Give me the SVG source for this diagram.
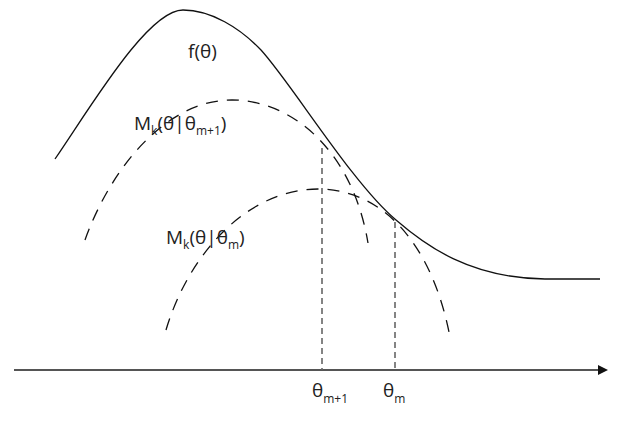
<svg xmlns="http://www.w3.org/2000/svg" width="621" height="422" viewBox="0 0 621 422">
<style>
.curve{fill:none;stroke:#111;stroke-width:1.3}
.dash{fill:none;stroke:#111;stroke-width:1.3;stroke-dasharray:12,9}
.vline{stroke:#666;stroke-width:1.6;stroke-dasharray:6,4}
.axis{stroke:#555;stroke-width:2}
text{font-family:"Open Sans","Liberation Sans",sans-serif;fill:#222;font-size:19px}
.sub{font-size:12px}
</style>
<defs>
<marker id="arr" viewBox="0 0 10 10" refX="2" refY="5" markerWidth="5" markerHeight="5" orient="auto" markerUnits="strokeWidth">
<path d="M0,0 L10,5 L0,10 z" fill="#111"/>
</marker>
</defs>
<rect width="621" height="422" fill="#fff"/>
<g id="connectors">
<line class="axis" x1="14" y1="370" x2="600" y2="370" marker-end="url(#arr)"/>
<line class="vline" x1="322" y1="148" x2="322" y2="370"/>
<line class="vline" x1="395" y1="222" x2="395" y2="370"/>
</g>
<g id="f-curve">
<path class="curve" d="M55,159 C92,105 148,10 183,10 C211,10 240,28 261,50 C292,84 352,183 396,220 C426,246 470,278 545,279 L600,279"/>
<text x="188" y="58">f(θ)</text>
</g>
<g id="m-curve-1">
<path class="dash" d="M85,240 C110,170 165,100 232,100 C290,100 352,148 368,243"/>
<text x="134" y="130">M<tspan class="sub" dy="5">k</tspan><tspan dy="-5">(θ|θ</tspan><tspan class="sub" dy="5">m+1</tspan><tspan dy="-5">)</tspan></text>
</g>
<g id="m-curve-2">
<path class="dash" d="M166,330 C190,250 250,189 318,189 C380,189 430,240 449,332"/>
<text x="166" y="244">M<tspan class="sub" dy="5">k</tspan><tspan dy="-5">(θ|θ</tspan><tspan class="sub" dy="5">m</tspan><tspan dy="-5">)</tspan></text>
</g>
<g id="labels">
<text x="312" y="397">θ<tspan class="sub" dy="6">m+1</tspan></text>
<text x="383" y="397">θ<tspan class="sub" dy="6">m</tspan></text>
</g>
</svg>
